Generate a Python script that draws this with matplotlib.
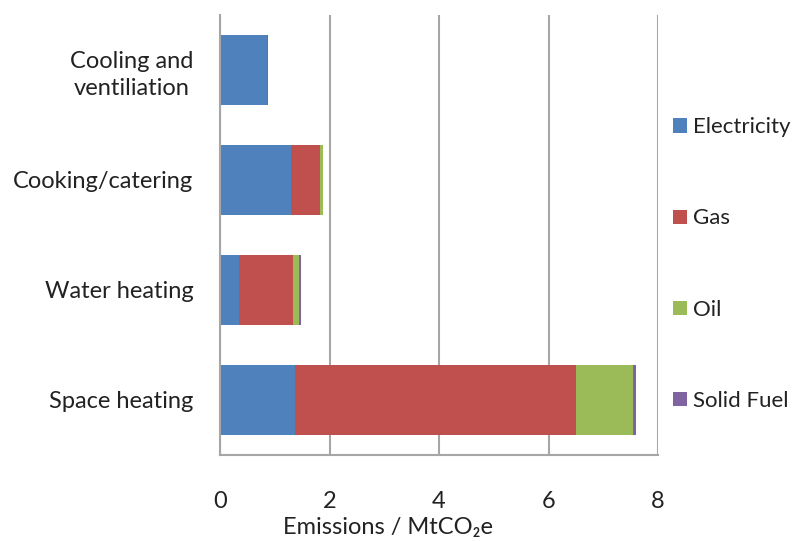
import matplotlib
matplotlib.use('Agg')
import matplotlib.pyplot as plt
import numpy as np

plt.rcParams['font.family'] = ['Lato', 'DejaVu Sans']

# data (MtCO2e), categories listed top to bottom
categories = ['Cooling and\nventiliation', 'Cooking/catering', 'Water heating', 'Space heating']
fuels = ['Electricity', 'Gas', 'Oil', 'Solid Fuel']
electricity = [0.85, 1.30, 0.35, 1.37]
gas = [0.02, 0.53, 0.98, 5.13]
oil = [0.00, 0.05, 0.12, 1.05]
solid_fuel = [0.00, 0.00, 0.03, 0.04]
colors = ['#4F81BD', '#C0504D', '#9BBB59', '#8064A2']

fs = 17
txt = '#222222'

fig = plt.figure(figsize=(8.02, 5.41), dpi=100)
ax = fig.add_axes([220 / 802, 1 - 455 / 541, 438 / 802, 440 / 541])

y = np.arange(len(categories))
left = np.zeros(len(categories))
for name, vals, col in zip(fuels, [electricity, gas, oil, solid_fuel], colors):
    ax.barh(y, vals, left=left, height=0.645, color=col, label=name)
    left += np.array(vals)

ax.set_ylim(len(categories) - 0.5, -0.5)
ax.set_xlim(0, 8)
ax.set_xticks([0, 2, 4, 6, 8])
ax.set_yticks(y)
ax.set_yticklabels(categories, fontsize=fs, color=txt)
for t in ax.get_yticklabels():
    t.set_multialignment('center')
    t.set_linespacing(1.35)
ax.tick_params(axis='x', labelsize=fs, colors=txt, length=0, pad=26)
ax.tick_params(axis='y', length=0, pad=19)
ax.grid(axis='x', color='#A6A6A6', linewidth=1.5)
ax.set_axisbelow(True)
for side in ['top', 'right']:
    ax.spines[side].set_visible(False)
for side in ['left', 'bottom']:
    ax.spines[side].set_color('#A6A6A6')
    ax.spines[side].set_linewidth(1.5)
ax.set_xlabel('Emissions / MtCO\u2082e', fontsize=fs, color=txt)
ax.xaxis.set_label_coords(0.384, -0.14)
ax.xaxis.label.set_va('top')

fig.legend(loc='center left', bbox_to_anchor=(669 / 802, 1 - 264 / 541),
           frameon=False, fontsize=16, labelspacing=3.2, handlelength=0.6,
           handleheight=0.6, handletextpad=0.3, borderpad=0.2,
           borderaxespad=0, labelcolor=txt)

fig.savefig('out.png', dpi=100)
